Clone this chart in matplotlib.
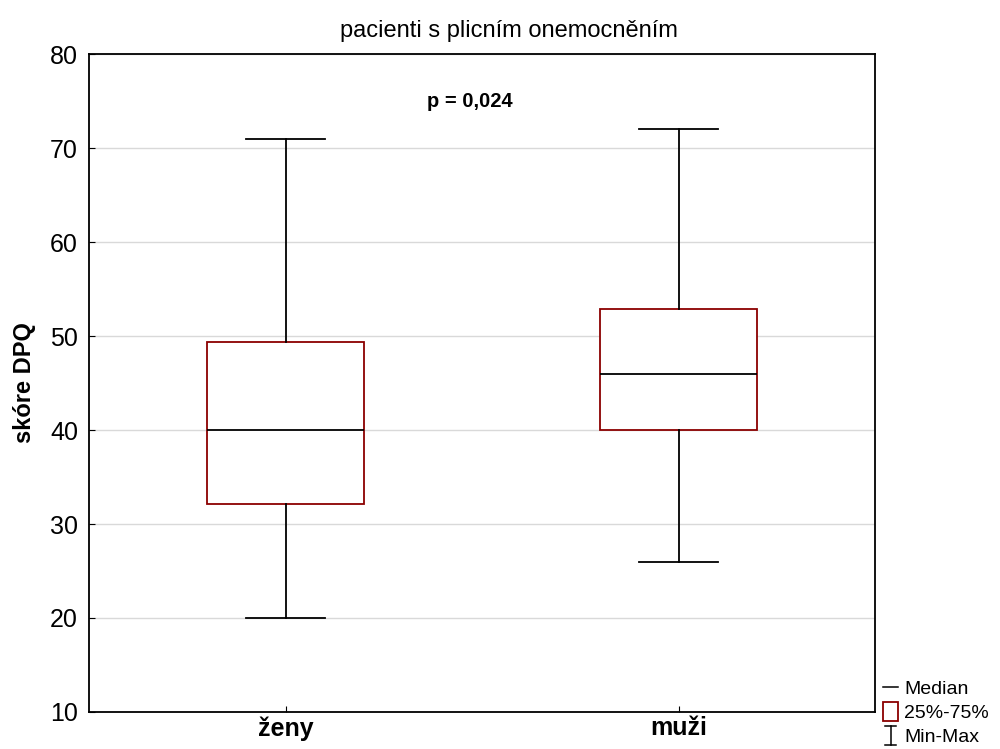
import matplotlib
matplotlib.use("Agg")
import matplotlib.pyplot as plt
from matplotlib.lines import Line2D
from matplotlib.patches import Rectangle
from matplotlib.legend_handler import HandlerBase

plt.rcParams['font.family'] = ['Liberation Sans', 'DejaVu Sans']

# Data
groups = ["ženy", "muži"]
minimum = [20, 26]
q1 = [32.1, 40]
median = [40, 46]
q3 = [49.4, 52.9]
maximum = [71, 72]
y_ticks = [10, 20, 30, 40, 50, 60, 70, 80]
title = "pacienti s plicním onemocněním"
y_label = "skóre DPQ"
p_text = "p = 0,024"
legend_labels = ["Median", "25%-75%", "Min-Max"]

BOX_RED = "#8b0000"

fig = plt.figure(figsize=(10, 7.49), dpi=100)
ax = fig.add_axes([0.089, 0.0494, 0.786, 0.8785])

stats = []
for g, lo, a, m, b, hi in zip(groups, minimum, q1, median, q3, maximum):
    stats.append(dict(label=g, whislo=lo, q1=a, med=m, q3=b, whishi=hi, fliers=[]))

positions = list(range(1, len(groups) + 1))
ax.bxp(stats, positions=positions, widths=0.4, capwidths=0.2,
       showfliers=False, patch_artist=True,
       boxprops=dict(facecolor="white", edgecolor=BOX_RED, linewidth=1.3),
       medianprops=dict(color="black", linewidth=1.3),
       whiskerprops=dict(color="black", linewidth=1.3),
       capprops=dict(color="black", linewidth=1.3),
       zorder=3)

ax.set_xlim(0.5, len(groups) + 0.5)
ax.set_ylim(y_ticks[0], y_ticks[-1])
ax.set_yticks(y_ticks)
ax.set_xticks(positions)
ax.set_xticklabels(groups, fontsize=18, fontweight="bold")
ax.tick_params(axis="y", direction="in", length=4, labelsize=18, pad=8)
ax.tick_params(axis="x", direction="in", length=4, pad=3)
ax.grid(axis="y", color="#d9d9d9", linewidth=1.0, zorder=0)
ax.set_axisbelow(True)
for s in ax.spines.values():
    s.set_linewidth(1.3)

ax.set_ylabel(y_label, fontsize=17, fontweight="bold", labelpad=10)
ax.set_title(title, fontsize=17, pad=12, x=0.534)
ax.text(1.47, 75, p_text, ha="center", va="center", fontsize=14.5, fontweight="bold")


class MinMaxHandler(HandlerBase):
    def create_artists(self, legend, orig_handle, xdescent, ydescent,
                       width, height, fontsize, trans):
        cx = width / 2 - xdescent
        top = height - ydescent + 1
        bot = -ydescent - 1
        hw = width * 0.3
        lines = [
            Line2D([cx, cx], [bot, top]),
            Line2D([cx - hw, cx + hw], [top, top]),
            Line2D([cx - hw, cx + hw], [bot, bot]),
        ]
        for ln in lines:
            ln.set_color("black")
            ln.set_linewidth(1.1)
            ln.set_transform(trans)
        return lines


class MedianHandler(HandlerBase):
    def create_artists(self, legend, orig_handle, xdescent, ydescent,
                       width, height, fontsize, trans):
        y = height / 2 - ydescent
        ln = Line2D([-xdescent + width * 0.1, width * 0.9 - xdescent], [y, y],
                    color="black", linewidth=1.1, transform=trans)
        return [ln]


class BoxHandler(HandlerBase):
    def create_artists(self, legend, orig_handle, xdescent, ydescent,
                       width, height, fontsize, trans):
        r = Rectangle((-xdescent + width * 0.1, -ydescent - 1), width * 0.8, height + 2,
                      facecolor="white", edgecolor=BOX_RED, linewidth=1.3,
                      transform=trans)
        return [r]


h_med = Line2D([], [])
h_box = Rectangle((0, 0), 1, 1)
h_mm = Line2D([], [], marker="|")
fig.legend([h_med, h_box, h_mm], legend_labels,
           handler_map={h_med: MedianHandler(), h_box: BoxHandler(), h_mm: MinMaxHandler()},
           loc="lower left", bbox_to_anchor=(0.877, -0.001), frameon=False,
           fontsize=14, handlelength=1.0, handleheight=0.9, handletextpad=0.2,
           labelspacing=0.26, borderpad=0.2, borderaxespad=0)

fig.savefig("out.png", dpi=100)
